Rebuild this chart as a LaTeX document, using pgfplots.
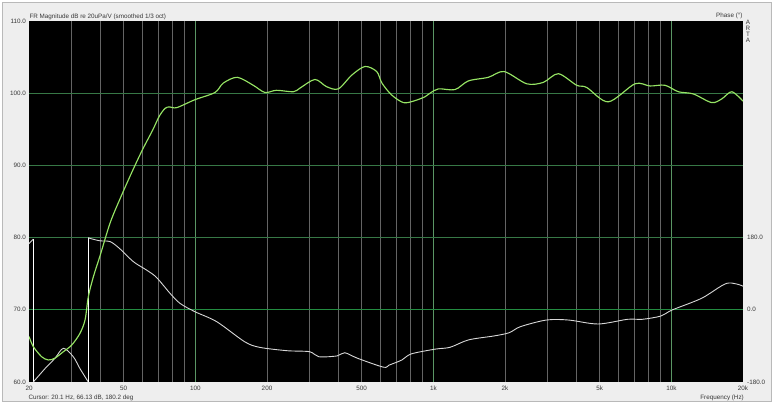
\documentclass[border=0pt]{standalone}
\usepackage{fontspec}
\setmainfont{Liberation Sans}
\usepackage{pgfplots}
\pgfplotsset{compat=1.18}
\definecolor{panel}{RGB}{238,238,238}
\definecolor{vgrid}{RGB}{100,100,100}
\definecolor{dgrid}{RGB}{90,150,100}
\definecolor{hgrid}{RGB}{55,120,70}
\definecolor{zgrid}{RGB}{35,140,65}
\definecolor{magc}{RGB}{150,228,100}
\definecolor{phsc}{RGB}{215,215,215}
\definecolor{lbl}{RGB}{55,55,55}

\begin{document}
\begin{tikzpicture}[x=1pt, y=1pt, font=\fontsize{6.3}{7}\selectfont]
\path[use as bounding box] (0,0) rectangle (777,404);
\fill[white] (0,0) rectangle (777,404);
\draw[fill=panel, draw=gray!55] (2.5,2.5) rectangle (771,401.5);

% phase axis: background, grid lines, right-hand labels
\begin{axis}[
  at={(29pt,22pt)}, anchor=south west,
  scale only axis, width=714pt, height=361pt,
  xmode=log, xmin=20, xmax=20000,
  ymin=-180, ymax=720,
  axis line style={draw=none},
  major tick length=0pt, minor tick length=0pt,
  tick label style={font=\fontsize{6.3}{7}\selectfont, text=lbl},
  axis background/.style={fill=black},
  xtick={20,50,100,200,500,1000,2000,5000,10000,20000},
  xticklabels={20,50,100,200,500,1k,2k,5k,10k,20k},
  xticklabel style={inner sep=0pt, yshift=-4pt},
  ytick={-180,0,180}, yticklabels={-180.0,0.0,180.0},
  yticklabel pos=right,
  yticklabel style={anchor=west, inner sep=0pt, xshift=4pt},
]
% frequency grid
\pgfplotsinvokeforeach{30,40,50,60,70,80,90,200,300,400,500,600,700,800,900,
                       2000,3000,4000,5000,6000,7000,8000,9000}{
  \addplot[vgrid, line width=0.8pt] coordinates {(#1,-180) (#1,720)};
}
\pgfplotsinvokeforeach{100,1000,10000}{
  \addplot[dgrid, line width=0.9pt] coordinates {(#1,-180) (#1,720)};
}
% level grid (100, 90, 80 dB) and the phase zero line (70 dB)
\pgfplotsinvokeforeach{180,360,540}{
  \addplot[hgrid, line width=1pt] coordinates {(20,#1) (20000,#1)};
}
\addplot[zgrid, line width=1.1pt] coordinates {(20,0) (20000,0)};

\addplot[phsc, line width=0.9pt] table {
  f     deg
  20    165
  20.85 176
};
\addplot[white, line width=1pt] table {
  f     deg
  20.85 176
  20.85 -180
};
\addplot[phsc, line width=0.9pt, smooth, tension=0.5] table {
  f     deg
  20.85 -180
  23.4  -146
  25.7  -121
  27.9  -96
  30.7  -117
  32.7  -146
  35.5  -180
};
\addplot[white, line width=1pt] table {
  f     deg
  35.5  -180
  35.5  180
};
\addplot[phsc, line width=0.9pt, smooth, tension=0.5] table {
  f     deg
  35.5  180
  36.1  178
  39.7  172
  43.8  170
  48.0  153
  54.9  120
  62.4  99
  68.6  81
  78.3  41
  86.2  16
  99.5  -4.7
  123   -29.7
  161   -79.5
  186   -93.5
  243   -102
  302   -104.5
  330   -117
  394   -115
  424   -107
  481   -121
  617   -143
  651   -138
  738   -125
  807   -110
  1019  -98
  1175  -93.5
  1406  -75
  1807  -65
  2085  -57
  2323  -42
  2984  -25.5
  3698  -25.5
  4920  -35.4
  6550  -23.7
  7555  -23.7
  9040  -15.5
  10070 -0.5
  13400 28.7
  17100 66
  20000 59
};
\end{axis}

% magnitude axis: left labels, FR curve
\begin{axis}[
  at={(29pt,22pt)}, anchor=south west,
  scale only axis, width=714pt, height=361pt,
  xmode=log, xmin=20, xmax=20000,
  ymin=60, ymax=110,
  axis line style={draw=none},
  major tick length=0pt, minor tick length=0pt,
  tick label style={font=\fontsize{6.3}{7}\selectfont, text=lbl},
  xtick=\empty,
  ytick={60,70,80,90,100,110},
  yticklabels={60.0,70.0,80.0,90.0,100.0,110.0},
  yticklabel style={anchor=east, inner sep=0pt, xshift=-3pt},
]
\addplot[magc, line width=1.15pt, smooth, tension=0.5] table {
  f     dB
  20    66.3
  20.85 64.9
  22.6  63.5
  24.1  63.05
  25.7  63.3
  27.9  64.2
  30.2  65.1
  32.7  66.7
  34.4  68.6
  35.5  71.8
  37.3  74.6
  39.7  77.4
  43.8  82.0
  48.0  85.2
  54.0  89.0
  60.0  92.2
  66.2  94.9
  70.5  96.8
  74.6  97.9
  78    98.1
  83.5  98.0
  99.6  99.1
  120.9 100.1
  131   101.4
  150   102.2
  175   101.1
  196   100.1
  219   100.4
  258   100.2
  275   100.7
  318   101.9
  356   100.9
  399   100.6
  454   102.5
  516   103.7
  578   103.0
  608   101.4
  668   99.75
  748   98.7
  824   98.9
  922   99.5
  968   100.0
  1050  100.6
  1233  100.5
  1403  101.7
  1702  102.2
  1983  103.0
  2468  101.3
  2898  101.5
  3350  102.7
  4000  101.1
  4406  100.8
  5430  98.8
  7030  101.3
  8128  101.0
  9397  101.1
  10700 100.2
  12360 99.9
  14760 98.7
  16270 99.2
  17950 100.2
  20000 98.9
};
\end{axis}

\node[anchor=west, inner sep=0pt, text=lbl] at (29.3,387.3) {FR Magnitude dB re 20uPa/V (smoothed 1/3 oct)};
\node[anchor=east, inner sep=0pt, text=lbl] at (742.7,388) {Phase (°)};
\node[inner sep=0pt, text=lbl] at (748,381.3) {A};
\node[inner sep=0pt, text=lbl] at (748,375.7) {R};
\node[inner sep=0pt, text=lbl] at (748,369.5) {T};
\node[inner sep=0pt, text=lbl] at (748,363.5) {A};
\node[anchor=west, inner sep=0pt, text=lbl] at (28.3,5.7) {Cursor: 20.1 Hz, 66.13 dB, 180.2 deg};
\node[anchor=east, inner sep=0pt, text=lbl] at (744,5.7) {Frequency (Hz)};
\end{tikzpicture}
\end{document}
